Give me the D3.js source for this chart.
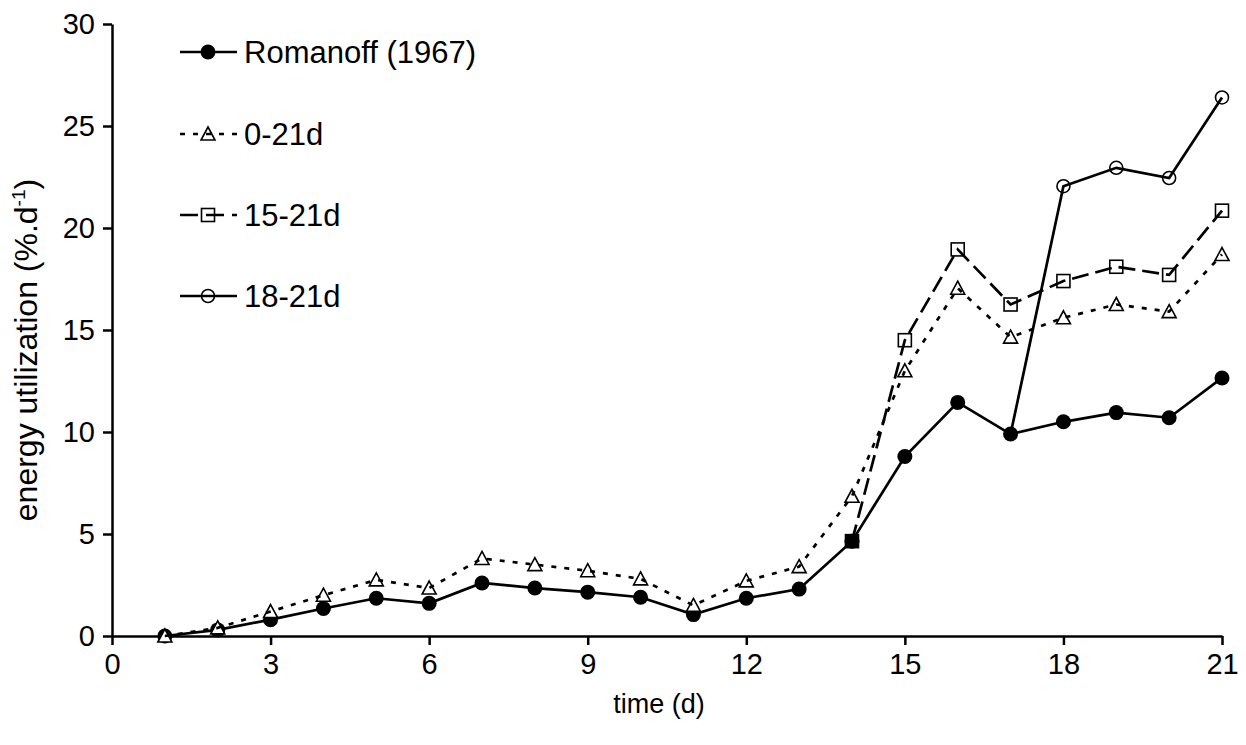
<!DOCTYPE html>
<html><head><meta charset="utf-8">
<script src="https://cdn.jsdelivr.net/npm/d3@7"></script>
<style>body{margin:0;background:#fff}svg{display:block}text{font-family:"Liberation Sans",Arial,sans-serif;fill:#000}</style>
</head><body>
<svg id="c" width="1246" height="745"></svg>
<script>
const days = [1,2,3,4,5,6,7,8,9,10,11,12,13,14,15,16,17,18,19,20,21];
const romanoff = [0,0.3,0.8,1.35,1.85,1.6,2.6,2.35,2.15,1.9,1.05,1.85,2.3,4.65,8.8,11.45,9.9,10.5,10.95,10.7,12.65];
const d0_21 = [0,0.4,1.2,2.0,2.75,2.35,3.8,3.5,3.2,2.8,1.5,2.7,3.4,6.85,13.0,17.05,14.65,15.6,16.25,15.9,18.7];
const d15_21Days = [14,15,16,17,18,19,20,21];
const d15_21 = [4.65,14.5,18.95,16.25,17.4,18.1,17.7,20.85];
const d18_21Days = [17,18,19,20,21];
const d18_21 = [9.9,22.05,22.95,22.45,26.4];
const xTicks = [0,3,6,9,12,15,18,21];
const yTicks = [0,5,10,15,20,25,30];
const legendLabels = ["Romanoff (1967)","0-21d","15-21d","18-21d"];

const svg = d3.select("#c");
const x = d3.scaleLinear().domain([0,21]).range([112,1222]);
const y = d3.scaleLinear().domain([0,30]).range([636,24]);

const fs = 29;
const xAxis = svg.append("g").attr("transform","translate(0,636)")
  .call(d3.axisBottom(x).tickValues(xTicks).tickSize(9).tickPadding(8).tickSizeOuter(0));
const yAxis = svg.append("g").attr("transform","translate(112,0)")
  .call(d3.axisLeft(y).tickValues(yTicks).tickSize(9).tickPadding(8).tickSizeOuter(0));
[xAxis,yAxis].forEach(a=>{
  a.select(".domain").attr("stroke","#000").attr("stroke-width",2.5);
  a.selectAll(".tick line").attr("stroke","#000").attr("stroke-width",2.5);
  a.selectAll(".tick text").attr("font-size",fs).attr("font-family","Liberation Sans, Arial").attr("fill","#000");
});

svg.append("text").attr("x",(112+1222)/2 - 8).attr("y",713).attr("text-anchor","middle")
  .attr("font-size",27).text("time (d)");
const yl = svg.append("text").attr("transform","translate(37,350) rotate(-90)").attr("text-anchor","middle").attr("font-size",32);
yl.append("tspan").text("energy utilization (%.d");
yl.append("tspan").attr("font-size",19).attr("dy",-12).text("-1");
yl.append("tspan").attr("dy",12).text(")");

const line = d3.line().x(d=>x(d[0])).y(d=>y(d[1]));
const sw = 2.7;
const series = [
  {days:days, vals:romanoff, dash:null, marker:"fcircle"},
  {days:days, vals:d0_21, dash:"5,8", marker:"tri"},
  {days:d15_21Days, vals:d15_21, dash:"17,7", marker:"square"},
  {days:d18_21Days, vals:d18_21, dash:null, marker:"ocircle"}
];

function drawMarker(g, type, cx, cy, filled){
  if(type==="fcircle") g.append("circle").attr("cx",cx).attr("cy",cy).attr("r",7.5).attr("fill","#000");
  else if(type==="ocircle") g.append("circle").attr("cx",cx).attr("cy",cy).attr("r",6.5).attr("fill","#fff").attr("stroke","#000").attr("stroke-width",1.6);
  else if(type==="square") g.append("rect").attr("x",cx-6.5).attr("y",cy-6.5).attr("width",13).attr("height",13).attr("fill",filled?"#000":"#fff").attr("stroke","#000").attr("stroke-width",1.6);
  else if(type==="tri") g.append("path").attr("d",`M${cx},${cy-7}L${cx+7},${cy+6}L${cx-7},${cy+6}Z`).attr("fill","#fff").attr("stroke","#000").attr("stroke-width",1.6);
}

series.forEach(s=>{
  const pts = s.days.map((d,i)=>[d,s.vals[i]]);
  const g = svg.append("g");
  pts.forEach((p,i)=>{
    if(s.marker==="ocircle" && i===0) return;
    drawMarker(g, s.marker, x(p[0]), y(p[1]), s.marker==="square" && i===0);
  });
  g.append("path").datum(pts).attr("d",line).attr("fill","none").attr("stroke","#000")
    .attr("stroke-width",sw).attr("stroke-dasharray",s.dash);
});

const legY = [52,134,215,296];
legendLabels.forEach((lab,i)=>{
  const g = svg.append("g");
  const s = series[i];
  drawMarker(g, s.marker, 208, legY[i], false);
  g.append("line").attr("x1",180).attr("x2",237).attr("y1",legY[i]).attr("y2",legY[i])
    .attr("stroke","#000").attr("stroke-width",sw).attr("stroke-dasharray",s.dash? (i===1?"5,8":"18,8"):null);
  g.append("text").attr("x",244).attr("y",legY[i]).attr("dy","0.36em").attr("font-size",31).text(lab);
});
</script>
</body></html>
